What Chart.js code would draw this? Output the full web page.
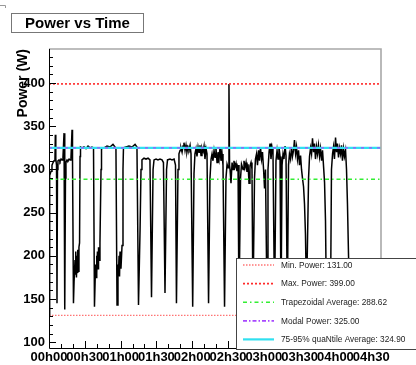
<!DOCTYPE html>
<html>
<head>
<meta charset="utf-8">
<script src="https://cdn.jsdelivr.net/npm/chart.js@4.4.1/dist/chart.umd.min.js"></script>
<style>
  body { margin: 0; background: #fff; }
  canvas { display: block; }
</style>
</head>
<body>
<canvas id="myChart" width="416" height="365"></canvas>
<script>
// time in minutes since start, power in W
const times = [0.0, 0.3, 0.8, 1.7, 2.5, 3.4, 4.2, 5.0, 5.3, 5.7, 6.3, 6.7, 7.1, 7.5, 8.4, 9.2, 10.1, 10.9, 11.7, 12.6,
  13.0, 13.4, 13.8, 14.2, 15.1, 15.9, 16.8, 17.6, 18.4, 19.3, 19.7, 20.5, 21.0, 21.8, 22.2, 22.6, 23.0, 23.5, 23.9, 24.3,
  24.7, 25.1, 25.6, 26.0, 26.4, 27.7, 29.3, 31.0, 32.7, 34.4, 36.0, 37.3, 38.1, 39.0, 39.4, 39.8, 40.2, 40.6, 41.1, 41.5,
  41.9, 42.7, 43.6, 44.0, 46.1, 48.6, 51.1, 53.6, 55.3, 56.1, 57.0, 57.8, 58.2, 58.7, 59.1, 59.5, 60.3, 61.2, 62.0, 62.4,
  64.5, 67.0, 69.6, 72.1, 73.7, 75.0, 76.3, 77.1, 77.9, 79.6, 81.3, 83.0, 84.6, 85.9, 87.2, 88.0, 89.7, 91.3, 93.0, 94.7,
  95.9, 97.2, 98.5, 99.3, 101.4, 103.1, 104.8, 106.0, 106.8, 108.1, 108.9, 109.8, 110.6, 111.5, 112.3, 113.1, 114.0, 114.8, 115.6, 116.5,
  117.3, 118.2, 119.0, 120.4, 121.5, 122.3, 123.2, 124.0, 124.9, 125.7, 126.5, 127.4, 128.2, 129.1, 129.9, 130.7, 131.6, 132.4, 133.7, 134.9,
  135.8, 136.6, 137.4, 138.3, 139.1, 139.9, 140.8, 141.6, 142.5, 143.3, 144.1, 145.0, 145.8, 147.1, 148.3, 149.2, 150.0, 150.8, 151.3, 151.7,
  152.5, 153.4, 154.2, 155.0, 155.9, 156.7, 157.5, 158.4, 159.2, 160.5, 161.3, 162.6, 163.4, 164.2, 165.1, 165.9, 166.8, 167.6, 168.4, 169.3,
  170.1, 170.9, 172.2, 173.0, 173.9, 174.7, 175.6, 176.4, 177.2, 178.1, 178.9, 179.8, 180.6, 181.4, 182.7, 183.5, 184.4, 185.2, 186.0, 186.9,
  187.7, 189.0, 190.2, 191.1, 191.9, 192.7, 193.6, 194.4, 195.3, 196.1, 196.9, 197.8, 198.6, 199.7, 200.7, 201.5, 202.4, 203.2, 204.0, 204.9,
  205.7, 206.6, 207.4, 208.2, 209.1, 209.9, 210.8, 211.6, 212.4, 213.3, 214.1, 214.9, 215.8, 217.5, 218.3, 219.2, 220.0, 220.8, 221.7, 222.5,
  223.3, 224.2, 225.0, 225.8, 226.7, 227.5, 228.4, 229.2, 230.0, 230.9, 231.7, 232.5, 235.9, 236.7, 237.6, 238.4, 239.2, 240.1, 240.9, 241.7,
  242.6, 243.4, 244.3, 245.1, 245.9, 246.8, 247.6, 248.5, 249.3, 250.1, 251.0, 251.8, 253.9]
const power = [131, 290, 293, 298, 305, 308, 310, 312, 340, 312, 305, 145, 300, 310, 311, 309, 312, 311, 314, 342,
  310, 138, 290, 308, 311, 310, 312, 311, 313, 346, 312, 145, 170, 195, 178, 205, 175, 200, 180, 207,
  182, 210, 215, 315, 326, 325, 326, 324, 327, 325, 326, 325, 141, 190, 175, 200, 180, 205, 185, 210,
  195, 215, 300, 324, 325, 327, 326, 329, 326, 324, 143, 190, 178, 200, 176, 205, 185, 212, 300, 325,
  326, 327, 326, 329, 326, 143, 230, 300, 311, 313, 312, 313, 311, 152, 300, 311, 312, 311, 312, 311,
  308, 157, 300, 311, 312, 311, 312, 305, 145, 300, 318, 322, 325, 320, 327, 331, 322, 328, 320, 326,
  323, 328, 318, 141, 295, 318, 324, 315, 326, 320, 328, 316, 325, 321, 327, 312, 324, 318, 145, 290,
  312, 318, 310, 322, 314, 325, 308, 320, 312, 326, 310, 318, 305, 141, 290, 306, 302, 399, 305, 300,
  284, 308, 300, 310, 303, 307, 298, 305, 140, 290, 306, 300, 310, 302, 308, 297, 306, 284, 304, 308,
  300, 140, 290, 312, 318, 305, 322, 310, 326, 312, 320, 300, 278, 300, 140, 300, 320, 330, 312, 325,
  318, 140, 310, 322, 312, 326, 315, 140, 305, 318, 312, 327, 316, 140, 305, 318, 312, 326, 315, 322,
  334, 318, 326, 312, 322, 305, 316, 300, 290, 280, 260, 225, 150, 290, 315, 325, 318, 336, 320, 330,
  312, 326, 318, 328, 315, 324, 310, 322, 305, 285, 240, 140, 145, 300, 318, 326, 312, 337, 320, 330,
  314, 325, 318, 328, 310, 324, 315, 322, 300, 260, 200, 140, 135]

const statNames = ['Min. Power', 'Max. Power', 'Trapezoidal Average', 'Modal Power', '75-95% quaNtile Average']
const statValues = [131.00, 399.00, 288.62, 325.00, 324.90]

const xTickValues = [0, 30, 60, 90, 120, 150, 180, 210, 240, 270]
const xTickLabels = ['00h00', '00h30', '01h00', '01h30', '02h00', '02h30', '03h00', '03h30', '04h00', '04h30']
const yTickValues = [100, 150, 200, 250, 300, 350, 400]
const yTickLabels = ['100', '150', '200', '250', '300', '350', '400']

const xMin = 0, xMax = 278.2
const yMin = 93.3, yMax = 439.4

// line looks for the stat lines (same order as statNames)
const statStyles = [
  { color: 'rgba(255,70,70,0.75)', width: 1.3, dash: [1.5, 1.5] },
  { color: '#ff2a2a', width: 1.6, dash: [2, 2] },
  { color: '#33ee33', width: 1.6, dash: [4, 3, 1.5, 3] },
  { color: '#a848ff', width: 1.2, dash: [3, 5] },
  { color: '#30e0f0', width: 2.2, dash: [] }
]
const statOrder = [5, 4, 3, 1, 2]

const trace = times.map((t, i) => ({ x: t, y: power[i] }))

const datasets = [{
  label: 'Power',
  data: trace,
  borderColor: '#000',
  borderWidth: 1.5,
  pointRadius: 0,
  tension: 0,
  order: 10
}]
statValues.forEach((v, i) => {
  datasets.push({
    label: statNames[i],
    data: [{ x: xMin, y: v }, { x: xMax, y: v }],
    borderColor: statStyles[i].color,
    borderWidth: statStyles[i].width,
    borderDash: statStyles[i].dash,
    pointRadius: 0,
    order: statOrder[i]
  })
})

const boldFont = size => ({ family: 'Liberation Sans', weight: 'bold', size: size })

const rootStyle = {
  id: 'rootStyle',
  beforeDraw(chart) {
    const c = chart.ctx
    c.save()
    c.fillStyle = '#fff'
    c.fillRect(0, 0, chart.width, chart.height)
    c.strokeStyle = '#999'
    c.lineWidth = 1
    c.beginPath()
    c.moveTo(0, 5.5); c.lineTo(5.5, 5.5); c.lineTo(5.5, 8)
    c.stroke()
    c.restore()
  },
  afterDraw(chart) {
    const c = chart.ctx
    const a = chart.chartArea
    const xs = chart.scales.x, ys = chart.scales.y
    c.save()
    // frame
    c.strokeStyle = '#a8a8a8'
    c.lineWidth = 1.6
    c.beginPath()
    c.moveTo(a.left, a.top); c.lineTo(a.right, a.top); c.lineTo(a.right, a.bottom)
    c.stroke()
    c.strokeStyle = '#000'
    c.lineWidth = 1
    c.beginPath()
    c.moveTo(a.left + 0.5, a.top); c.lineTo(a.left + 0.5, a.bottom + 0.5); c.lineTo(a.right, a.bottom + 0.5)
    c.stroke()
    // ticks
    c.beginPath()
    for (let v = 100; v <= 430; v += 10) {
      const y = Math.round(ys.getPixelForValue(v)) + 0.5
      const len = v % 50 === 0 ? 7 : 4
      c.moveTo(a.left, y); c.lineTo(a.left + len, y)
    }
    for (let v = 0; v <= 270; v += 10) {
      const x = Math.round(xs.getPixelForValue(v)) + 0.5
      const len = v % 30 === 0 ? 7 : 4
      c.moveTo(x, a.bottom); c.lineTo(x, a.bottom - len)
    }
    c.stroke()

    // legend box
    const lx = 236.5, ly = 258.5
    c.fillStyle = '#fff'
    c.fillRect(lx, ly, chart.width - lx + 2, 91)
    c.strokeStyle = '#444'
    c.lineWidth = 1
    c.strokeRect(lx, ly, chart.width - lx + 2, 91)
    c.font = '8.3px "Liberation Sans"'
    c.textBaseline = 'middle'
    statNames.forEach((n, i) => {
      const y = 265 + i * 18.6
      const s = statStyles[i]
      c.strokeStyle = s.color
      c.lineWidth = i === 3 ? 1.8 : s.width
      c.setLineDash(i === 3 ? [4, 2, 1.5, 2] : s.dash)
      c.beginPath()
      c.moveTo(243, y); c.lineTo(274, y)
      c.stroke()
      c.setLineDash([])
      c.fillStyle = '#222'
      c.fillText(n + ': ' + statValues[i].toFixed(2), 281, y + 0.5)
    })

    // title box
    c.fillStyle = '#fff'
    c.fillRect(11.5, 13.5, 132, 19)
    c.strokeStyle = '#777'
    c.lineWidth = 1
    c.strokeRect(11.5, 13.5, 132, 19)
    c.fillStyle = '#000'
    c.font = 'bold 15px "Liberation Sans"'
    c.textAlign = 'center'
    c.fillText('Power vs Time', 77.5, 23.5)
    c.restore()
  }
}

const config = {
  type: 'line',
  data: { datasets: datasets },
  options: {
    responsive: false,
    animation: false,
    devicePixelRatio: 1,
    layout: { padding: { top: 49, right: 35, left: 0, bottom: 0 } },
    plugins: { legend: { display: false }, tooltip: { enabled: false } },
    scales: {
      x: {
        type: 'linear',
        min: xMin,
        max: xMax,
        afterBuildTicks: s => { s.ticks = xTickValues.map(v => ({ value: v })) },
        afterFit: s => { s.height = 17 },
        ticks: {
          autoSkip: false, maxRotation: 0, minRotation: 0, padding: 2,
          color: '#000', font: boldFont(13),
          callback: v => xTickLabels[xTickValues.indexOf(v)]
        },
        grid: { display: false, drawTicks: false },
        border: { display: false }
      },
      y: {
        type: 'linear',
        min: yMin,
        max: yMax,
        afterBuildTicks: s => { s.ticks = yTickValues.map(v => ({ value: v })) },
        afterFit: s => { s.width = 49 },
        ticks: {
          autoSkip: false, padding: 4, color: '#000', font: boldFont(13),
          callback: v => yTickLabels[yTickValues.indexOf(v)]
        },
        grid: { display: false, drawTicks: false },
        border: { display: false },
        title: {
          display: true, text: 'Power (W)', align: 'end', color: '#000',
          font: boldFont(14), padding: { top: 15, bottom: 0 }
        }
      }
    }
  },
  plugins: [rootStyle]
}

const myChart = new Chart(document.getElementById('myChart'), config)
</script>
</body>
</html>
